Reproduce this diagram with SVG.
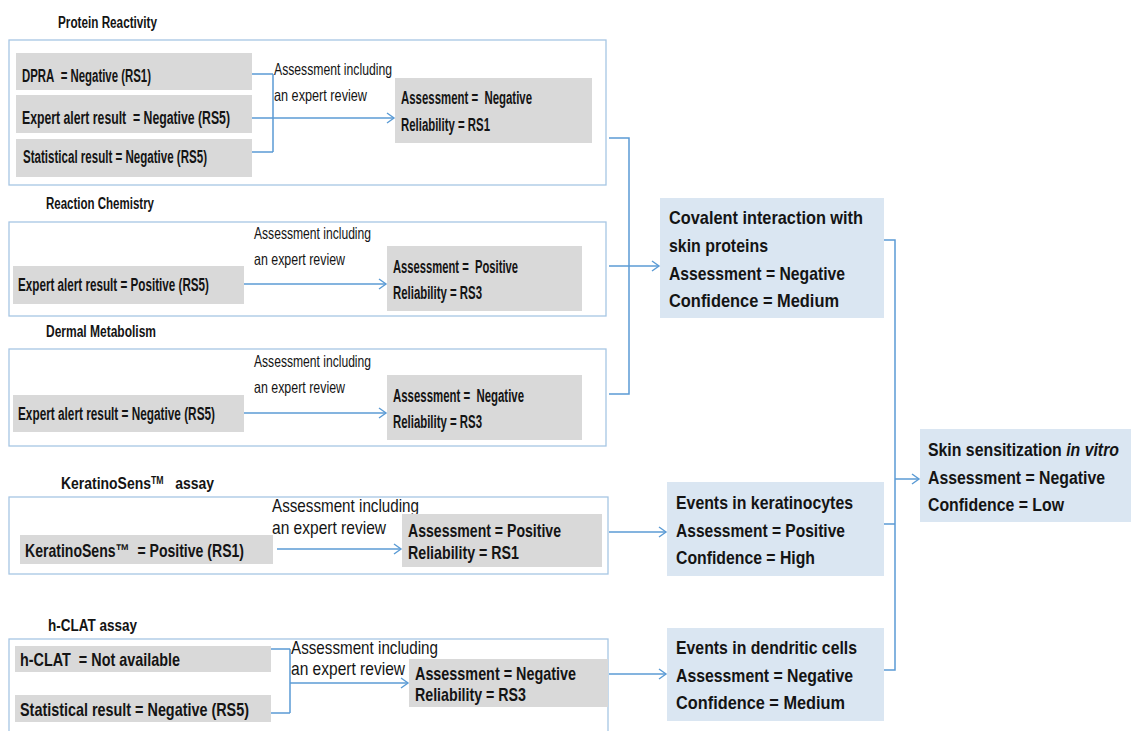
<svg xmlns="http://www.w3.org/2000/svg" width="1132" height="731" viewBox="0 0 1132 731">
  <defs>
    <marker id="arrow" markerWidth="10" markerHeight="12" refX="8" refY="6" orient="auto" markerUnits="userSpaceOnUse">
      <path d="M1,1 L8,6 L1,11" fill="none" stroke="#5b9bd5" stroke-width="1.4"/>
    </marker>
    <style>
      text { font-family: "Liberation Sans", Arial, sans-serif; fill: #141414; }
      .panel { fill: #ffffff; stroke: #a7c6e4; stroke-width: 1.3; }
      .input { fill: #d9d9d9; }
      .result { fill: #d9d9d9; }
      .summary { fill: #dae6f2; }
      .title { font-size: 16px; font-weight: bold; }
      .lbl { font-size: 18px; font-weight: bold; }
      .lbl2 { font-size: 18.5px; font-weight: bold; }
      .note { font-size: 16.5px; }
      .note2 { font-size: 18.5px; }
      .big { font-size: 18.5px; font-weight: bold; }
      .conn { fill: none; stroke: #5b9bd5; stroke-width: 1.5; }
      .arr { marker-end: url(#arrow); }
    </style>
  </defs>
  <rect width="1132" height="731" fill="#ffffff"/>

  <!-- Protein Reactivity -->
  <g id="protein-reactivity">
    <text class="title" x="58" y="28" textLength="99" lengthAdjust="spacingAndGlyphs">Protein Reactivity</text>
    <rect class="panel" x="9" y="40" width="597" height="145"/>
    <rect class="input" x="16" y="53" width="236" height="37"/>
    <text class="lbl" x="22" y="82" textLength="129" lengthAdjust="spacingAndGlyphs">DPRA&#160; = Negative (RS1)</text>
    <rect class="input" x="16" y="95" width="236" height="38"/>
    <text class="lbl" x="22" y="124" textLength="208" lengthAdjust="spacingAndGlyphs">Expert alert result&#160; = Negative (RS5)</text>
    <rect class="input" x="16" y="139" width="236" height="38"/>
    <text class="lbl" x="23" y="163" textLength="184" lengthAdjust="spacingAndGlyphs">Statistical result = Negative (RS5)</text>
    <text class="note" x="274" y="75" textLength="118" lengthAdjust="spacingAndGlyphs">Assessment including</text>
    <text class="note" x="274" y="101" textLength="93" lengthAdjust="spacingAndGlyphs">an expert review</text>
    <rect class="result" x="395" y="78" width="197" height="65"/>
    <text class="lbl" x="401" y="104" textLength="131" lengthAdjust="spacingAndGlyphs">Assessment =&#160; Negative</text>
    <text class="lbl" x="401" y="131" textLength="89" lengthAdjust="spacingAndGlyphs">Reliability = RS1</text>
  </g>

  <!-- Reaction Chemistry -->
  <g id="reaction-chemistry">
    <text class="title" x="46" y="209" textLength="108" lengthAdjust="spacingAndGlyphs">Reaction Chemistry</text>
    <rect class="panel" x="9" y="222" width="597" height="94"/>
    <rect class="input" x="13" y="266" width="231" height="38"/>
    <text class="lbl" x="18" y="291" textLength="191" lengthAdjust="spacingAndGlyphs">Expert alert result = Positive (RS5)</text>
    <text class="note" x="254" y="239" textLength="117" lengthAdjust="spacingAndGlyphs">Assessment including</text>
    <text class="note" x="254" y="265" textLength="91" lengthAdjust="spacingAndGlyphs">an expert review</text>
    <rect class="result" x="387" y="246" width="195" height="65"/>
    <text class="lbl" x="393" y="273" textLength="125" lengthAdjust="spacingAndGlyphs">Assessment =&#160; Positive</text>
    <text class="lbl" x="393" y="299" textLength="89" lengthAdjust="spacingAndGlyphs">Reliability = RS3</text>
  </g>

  <!-- Dermal Metabolism -->
  <g id="dermal-metabolism">
    <text class="title" x="46" y="337" textLength="110" lengthAdjust="spacingAndGlyphs">Dermal Metabolism</text>
    <rect class="panel" x="9" y="349" width="597" height="97"/>
    <rect class="input" x="13" y="395" width="231" height="37"/>
    <text class="lbl" x="18" y="420" textLength="197" lengthAdjust="spacingAndGlyphs">Expert alert result = Negative (RS5)</text>
    <text class="note" x="254" y="367" textLength="117" lengthAdjust="spacingAndGlyphs">Assessment including</text>
    <text class="note" x="254" y="393" textLength="91" lengthAdjust="spacingAndGlyphs">an expert review</text>
    <rect class="result" x="387" y="375" width="195" height="65"/>
    <text class="lbl" x="393" y="402" textLength="131" lengthAdjust="spacingAndGlyphs">Assessment =&#160; Negative</text>
    <text class="lbl" x="393" y="428" textLength="89" lengthAdjust="spacingAndGlyphs">Reliability = RS3</text>
  </g>

  <!-- KeratinoSens assay -->
  <g id="keratinosens-assay">
    <text class="title" x="61" y="489" textLength="153" lengthAdjust="spacingAndGlyphs">KeratinoSens<tspan font-size="10" baseline-shift="super">TM</tspan>&#160;&#160; assay</text>
    <rect class="panel" x="9" y="497" width="599" height="77"/>
    <rect class="input" x="20" y="535" width="253" height="29"/>
    <text class="lbl2" x="25" y="557" textLength="219" lengthAdjust="spacingAndGlyphs">KeratinoSens™&#160; = Positive (RS1)</text>
    <text class="note2" x="272" y="512" textLength="147" lengthAdjust="spacingAndGlyphs">Assessment including</text>
    <text class="note2" x="272" y="534" textLength="114" lengthAdjust="spacingAndGlyphs">an expert review</text>
    <rect class="result" x="402" y="514" width="200" height="53"/>
    <text class="lbl2" x="408" y="537" textLength="153" lengthAdjust="spacingAndGlyphs">Assessment = Positive</text>
    <text class="lbl2" x="408" y="559" textLength="111" lengthAdjust="spacingAndGlyphs">Reliability = RS1</text>
  </g>

  <!-- h-CLAT assay -->
  <g id="hclat-assay">
    <text class="title" x="48" y="631" textLength="89" lengthAdjust="spacingAndGlyphs">h-CLAT assay</text>
    <rect class="panel" x="9" y="639" width="599" height="110"/>
    <rect class="input" x="15" y="646" width="256" height="26"/>
    <text class="lbl2" x="20" y="666" textLength="160" lengthAdjust="spacingAndGlyphs">h-CLAT&#160; = Not available</text>
    <rect class="input" x="15" y="695" width="256" height="27"/>
    <text class="lbl2" x="20" y="716" textLength="229" lengthAdjust="spacingAndGlyphs">Statistical result = Negative (RS5)</text>
    <text class="note2" x="291" y="654" textLength="147" lengthAdjust="spacingAndGlyphs">Assessment including</text>
    <text class="note2" x="291" y="675" textLength="114" lengthAdjust="spacingAndGlyphs">an expert review</text>
    <rect class="result" x="409" y="659" width="199" height="48"/>
    <text class="lbl2" x="415" y="680" textLength="161" lengthAdjust="spacingAndGlyphs">Assessment = Negative</text>
    <text class="lbl2" x="415" y="701" textLength="111" lengthAdjust="spacingAndGlyphs">Reliability = RS3</text>
  </g>

  <!-- Key event summaries -->
  <g id="covalent-interaction">
    <rect class="summary" x="660" y="198" width="224" height="120"/>
    <text class="big" x="669" y="224" textLength="194" lengthAdjust="spacingAndGlyphs">Covalent interaction with</text>
    <text class="big" x="669" y="252" textLength="99" lengthAdjust="spacingAndGlyphs">skin proteins</text>
    <text class="big" x="669" y="280" textLength="176" lengthAdjust="spacingAndGlyphs">Assessment = Negative</text>
    <text class="big" x="669" y="307" textLength="170" lengthAdjust="spacingAndGlyphs">Confidence = Medium</text>
  </g>

  <g id="keratinocytes">
    <rect class="summary" x="667" y="482" width="217" height="94"/>
    <text class="big" x="676" y="509" textLength="177" lengthAdjust="spacingAndGlyphs">Events in keratinocytes</text>
    <text class="big" x="676" y="537" textLength="169" lengthAdjust="spacingAndGlyphs">Assessment = Positive</text>
    <text class="big" x="676" y="564" textLength="139" lengthAdjust="spacingAndGlyphs">Confidence = High</text>
  </g>

  <g id="dendritic-cells">
    <rect class="summary" x="667" y="628" width="217" height="93"/>
    <text class="big" x="676" y="654" textLength="181" lengthAdjust="spacingAndGlyphs">Events in dendritic cells</text>
    <text class="big" x="676" y="682" textLength="177" lengthAdjust="spacingAndGlyphs">Assessment = Negative</text>
    <text class="big" x="676" y="709" textLength="169" lengthAdjust="spacingAndGlyphs">Confidence = Medium</text>
  </g>

  <g id="skin-sensitization">
    <rect class="summary" x="920" y="429" width="211" height="93"/>
    <text class="big" x="928" y="456" style="font-size:18px" textLength="191" lengthAdjust="spacingAndGlyphs">Skin sensitization <tspan font-style="italic">in vitro</tspan></text>
    <text class="big" x="928" y="484" style="font-size:18px" textLength="177" lengthAdjust="spacingAndGlyphs">Assessment = Negative</text>
    <text class="big" x="928" y="511" style="font-size:18px" textLength="136" lengthAdjust="spacingAndGlyphs">Confidence = Low</text>
  </g>

  <!-- Connectors -->
  <g id="connectors">
    <path class="conn" d="M252,74 H273 M252,118 H273 M252,152 H273 M273,74 V152"/>
    <path class="conn arr" d="M273,118 H394"/>
    <path class="conn arr" d="M244,284 H386"/>
    <path class="conn arr" d="M244,413 H386"/>
    <path class="conn arr" d="M277,549 H401"/>
    <path class="conn" d="M271,649 H290 M271,713 H290 M290,649 V713"/>
    <path class="conn arr" d="M290,683 H408"/>
    <path class="conn" d="M609,138 H629 V394 H609"/>
    <path class="conn arr" d="M609,266 H659"/>
    <path class="conn arr" d="M609,532 H666"/>
    <path class="conn arr" d="M609,674 H666"/>
    <path class="conn" d="M884,240 H895 V670 H884 M884,524 H895"/>
    <path class="conn arr" d="M895,479 H919"/>
  </g>
</svg>
